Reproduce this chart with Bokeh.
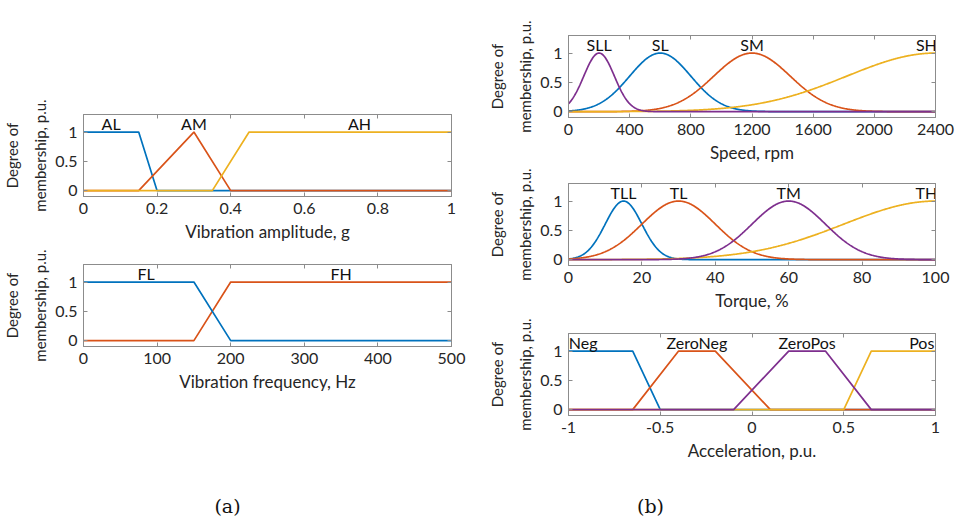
import numpy as np
from bokeh.plotting import figure
from bokeh.layouts import row, column
from bokeh.models import LinearAxis, FixedTicker, Range1d, Label, CustomLabelingPolicy
from bokeh.core.properties import value
from bokeh.embed import file_html
from bokeh.resources import INLINE

# ---------------- data ----------------
y_ticks = [0, 0.5, 1]
y_tick_labels = ["0", "0.5", "1"]

# (a) top: vibration amplitude
amp_ticks = [0, 0.2, 0.4, 0.6, 0.8, 1]
amp_tick_labels = ["0", "0.2", "0.4", "0.6", "0.8", "1"]
amp_names = ["AL", "AM", "AH"]
amp_label_x = [0.075, 0.3, 0.75]
AL_x = [0, 0.15, 0.2, 1]
AL_y = [1, 1, 0, 0]
AM_x = [0, 0.15, 0.3, 0.4, 1]
AM_y = [0, 0, 1, 0, 0]
AH_x = [0, 0.35, 0.45, 1]
AH_y = [0, 0, 1, 1]

# (a) bottom: vibration frequency
freq_ticks = [0, 100, 200, 300, 400, 500]
freq_tick_labels = ["0", "100", "200", "300", "400", "500"]
freq_names = ["FL", "FH"]
freq_label_x = [85, 350]
FL_x = [0, 150, 200, 500]
FL_y = [1, 1, 0, 0]
FH_x = [0, 150, 200, 500]
FH_y = [0, 0, 1, 1]

# (b) top: speed (Gaussian membership functions), listed in drawing order
speed_ticks = [0, 400, 800, 1200, 1600, 2000, 2400]
speed_tick_labels = ["0", "400", "800", "1200", "1600", "2000", "2400"]
speed_names = ["SL", "SM", "SH", "SLL"]
speed_centers = [600, 1200, 2400, 200]
speed_sigmas = [200, 250, 580, 100]
speed_label_x = [600, 1200, 2340, 200]

# (b) middle: torque
torque_ticks = [0, 20, 40, 60, 80, 100]
torque_tick_labels = ["0", "20", "40", "60", "80", "100"]
torque_names = ["TLL", "TL", "TH", "TM"]
torque_centers = [15, 30, 100, 60]
torque_sigmas = [5, 10, 25, 10]
torque_label_x = [15, 30, 97.5, 60]

# (b) bottom: acceleration (trapezoids), listed in drawing order
acc_ticks = [-1, -0.5, 0, 0.5, 1]
acc_tick_labels = ["-1", "-0.5", "0", "0.5", "1"]
acc_names = ["Neg", "ZeroNeg", "Pos", "ZeroPos"]
acc_label_x = [-0.92, -0.3, 0.925, 0.3]
Neg_x = [-1, -0.65, -0.5, 1]
Neg_y = [1, 1, 0, 0]
ZeroNeg_x = [-1, -0.65, -0.4, -0.2, 0.1, 1]
ZeroNeg_y = [0, 0, 1, 1, 0, 0]
Pos_x = [-1, 0.5, 0.65, 1]
Pos_y = [0, 0, 1, 1]
ZeroPos_x = [-1, -0.1, 0.2, 0.4, 0.65, 1]
ZeroPos_y = [0, 0, 1, 1, 0, 0]

# ---------------- style ----------------
BLUE, ORANGE, YELLOW, PURPLE = "#0072BD", "#D95319", "#EDB120", "#7E2F8E"
COLORS = [BLUE, ORANGE, YELLOW, PURPLE]
GREY = "#8c8c8c"
TXT = "#262626"
FONT = "Lato"
LW = 1.7
YLABEL = "Degree of\nmembership, p.u."

NO_LABELS = CustomLabelingPolicy(code="""
for (const i of Array.from(indices)) { indices.unset(i) }
return indices
""")


def style_axis(ax, labels=True):
    ax.axis_line_color = GREY
    ax.major_tick_line_color = GREY
    ax.major_tick_in = 4
    ax.major_tick_out = 0
    ax.minor_tick_line_color = None
    ax.major_label_text_font = FONT
    ax.major_label_text_color = TXT
    ax.axis_label_text_font = FONT
    ax.axis_label_text_font_style = "normal"
    ax.axis_label_text_color = TXT
    ax.axis_label_text_font_size = "17px"
    ax.axis_label_standoff = 4
    if labels:
        ax.major_label_text_font_size = "16px"
        ax.major_label_standoff = 6
    else:
        ax.major_label_text_font_size = "0px"
        ax.major_label_standoff = 0
        ax.major_label_policy = NO_LABELS


def panel(w, h, left, top, right, bottom, xr, xticks, xlabels, xlabel):
    p = figure(width=w, height=h, x_range=Range1d(*xr), y_range=Range1d(-0.1, 1.3),
               output_backend="svg", toolbar_location=None,
               x_axis_location=None, y_axis_location=None,
               min_border_left=left, min_border_top=top,
               min_border_right=right, min_border_bottom=bottom)
    p.grid.visible = False
    p.outline_line_color = GREY
    p.background_fill_color = "white"
    p.border_fill_color = "white"

    xa = LinearAxis(ticker=FixedTicker(ticks=xticks),
                    major_label_overrides=dict(zip(xticks, xlabels)),
                    axis_label=xlabel)
    style_axis(xa)
    p.add_layout(xa, "below")
    xt = LinearAxis(ticker=FixedTicker(ticks=xticks))
    style_axis(xt, labels=False)
    p.add_layout(xt, "above")

    ya = LinearAxis(ticker=FixedTicker(ticks=y_ticks),
                    major_label_overrides=dict(zip(y_ticks, y_tick_labels)),
                    axis_label=YLABEL)
    style_axis(ya)
    ya.axis_label_text_font_size = "15px"
    ya.axis_label_text_line_height = 1.55
    ya.axis_label_standoff = 3
    p.add_layout(ya, "left")
    yr = LinearAxis(ticker=FixedTicker(ticks=y_ticks))
    style_axis(yr, labels=False)
    p.add_layout(yr, "right")
    return p


def names_text(p, xs, names):
    p.text(x=xs, y=[1.15] * len(xs), text=names, text_align="center",
           text_baseline="middle", text_font=value(FONT),
           text_font_size=value("16px"), text_color="#111111")


def gaussmf(x, c, s):
    return np.exp(-((x - c) ** 2) / (2.0 * s ** 2))


# ---- (a) top ----
a1 = panel(480, 248, 81, 114, 29, 52, (0, 1), amp_ticks, amp_tick_labels,
           "Vibration amplitude, g")
for xs, ys, col in [(AL_x, AL_y, BLUE), (AM_x, AM_y, ORANGE), (AH_x, AH_y, YELLOW)]:
    a1.line(xs, ys, line_color=col, line_width=LW)
names_text(a1, amp_label_x, amp_names)

# ---- (a) bottom ----
a2 = panel(480, 222, 81, 16, 29, 124, (0, 500), freq_ticks, freq_tick_labels,
           "Vibration frequency, Hz")
for xs, ys, col in [(FH_x, FH_y, ORANGE), (FL_x, FL_y, BLUE)]:
    a2.line(xs, ys, line_color=col, line_width=LW)
names_text(a2, freq_label_x, freq_names)

# ---- (b) speed ----
b1 = panel(476, 167, 88, 35, 21, 50, (0, 2400), speed_ticks, speed_tick_labels,
           "Speed, rpm")
xs_speed = np.linspace(0, 2400, 601)
for c, s, col in zip(speed_centers, speed_sigmas, COLORS):
    b1.line(xs_speed, gaussmf(xs_speed, c, s), line_color=col, line_width=LW)
names_text(b1, speed_label_x, speed_names)

# ---- (b) torque ----
b2 = panel(476, 150, 88, 16, 21, 52, (0, 100), torque_ticks, torque_tick_labels,
           "Torque, %")
xs_torque = np.linspace(0, 100, 501)
for c, s, col in zip(torque_centers, torque_sigmas, COLORS):
    b2.line(xs_torque, gaussmf(xs_torque, c, s), line_color=col, line_width=LW)
names_text(b2, torque_label_x, torque_names)

# ---- (b) acceleration ----
b3 = panel(476, 153, 88, 16, 21, 55, (-1, 1), acc_ticks, acc_tick_labels,
           "Acceleration, p.u.")
for xs, ys, col in [(Neg_x, Neg_y, BLUE), (ZeroNeg_x, ZeroNeg_y, ORANGE),
                    (Pos_x, Pos_y, YELLOW), (ZeroPos_x, ZeroPos_y, PURPLE)]:
    b3.line(xs, ys, line_color=col, line_width=LW)
names_text(b3, acc_label_x, acc_names)

# ---- captions ----
cap = figure(width=956, height=50, x_range=Range1d(0, 956), y_range=Range1d(0, 50),
             output_backend="svg", toolbar_location=None,
             x_axis_location=None, y_axis_location=None, min_border=0)
cap.grid.visible = False
cap.outline_line_color = None
for txt, xpos in [("(a)", 227), ("(b)", 650)]:
    cap.add_layout(Label(x=xpos, y=15, x_units="screen", y_units="screen", text=txt,
                         text_align="center", text_baseline="middle",
                         text_font="DejaVu Serif", text_font_size="19px",
                         text_color="#111111"))

layout = column(row(column(a1, a2), column(b1, b2, b3)), cap)
open("out.html", "w").write(file_html(layout, INLINE))
